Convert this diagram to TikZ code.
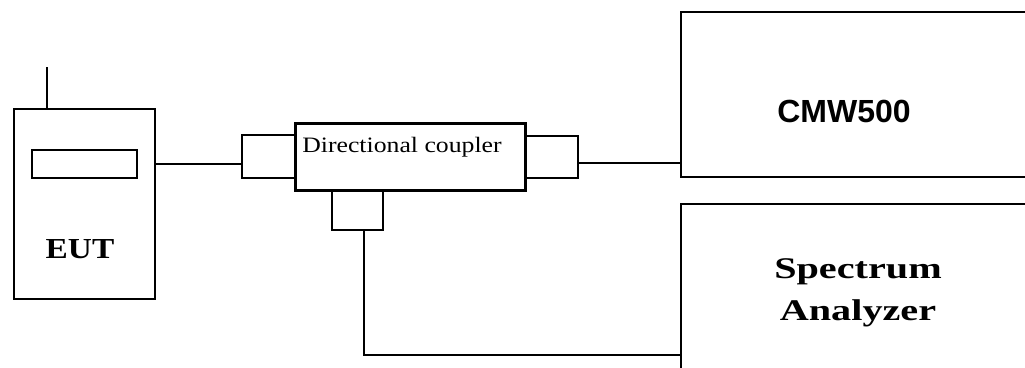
\documentclass[tikz,border=0pt]{standalone}
\usepackage{fontspec}
\setmainfont{Liberation Serif}
\newfontfamily\arialf{Liberation Sans}
\begin{document}
\begin{tikzpicture}[x=1pt,y=-1pt,
  box/.style={draw=black,line width=2.6pt,anchor=north west,inner sep=0pt,outer sep=0pt,rectangle},
  wire/.style={draw=black,line width=2pt},
  lbl/.style={inner sep=0pt,anchor=base,text=black}]
\useasboundingbox[fill=white] (0,0) rectangle (1025,367);
\clip (0,0) rectangle (1025,367);
% EUT
\node[box,minimum width=141pt,minimum height=190pt] (eut) at (14,109) {};
\node[box,minimum width=105pt,minimum height=28pt] (disp) at (32,150) {};
\coordinate (anttop) at (47,67);
\draw[wire,line width=2.6pt] (anttop) -- (anttop |- eut.north);
\node[lbl] (eutl) at (80,258) {\scalebox{1.15}[1]{\fontsize{29}{32}\selectfont\bfseries EUT}};
% coupler
\node[box,minimum width=53pt,minimum height=43pt] (lport) at (242,135) {};
\node[box,line width=3pt,minimum width=230pt,minimum height=67pt] (coup) at (295,123) {};
\node[box,minimum width=53pt,minimum height=42pt] (rport) at (525,136) {};
\node[box,minimum width=51pt,minimum height=40pt] (bport) at (332,190) {};
\node[lbl] (coupl) at (402,152) {\scalebox{1.17}[1]{\fontsize{22}{26}\selectfont Directional coupler}};
% instruments
\node[box,minimum width=400pt,minimum height=165pt] (cmw) at (681,12) {};
\node[lbl] (cmwl) at (844,122) {{\arialf\bfseries\fontsize{32}{36}\selectfont CMW500}};
\node[box,minimum width=400pt,minimum height=200pt] (sa) at (681,204) {};
\node[lbl] (sal1) at (858,278) {\scalebox{1.34}[1]{\fontsize{30}{34}\selectfont\bfseries Spectrum}};
\node[lbl] (sal2) at (858,320) {\scalebox{1.34}[1]{\fontsize{30}{34}\selectfont\bfseries Analyzer}};
% wires
\coordinate (w1) at (0,164);
\coordinate (w2) at (0,163);
\coordinate (w3x) at (364,0);
\coordinate (w3y) at (0,355);
\draw[wire] (eut.east |- w1) -- (lport.west |- w1);
\draw[wire] (rport.east |- w2) -- (cmw.west |- w2);
\draw[wire,line width=2.6pt] (w3x |- bport.south) -- (w3x |- w3y) -- (sa.west |- w3y);
\end{tikzpicture}
\end{document}
